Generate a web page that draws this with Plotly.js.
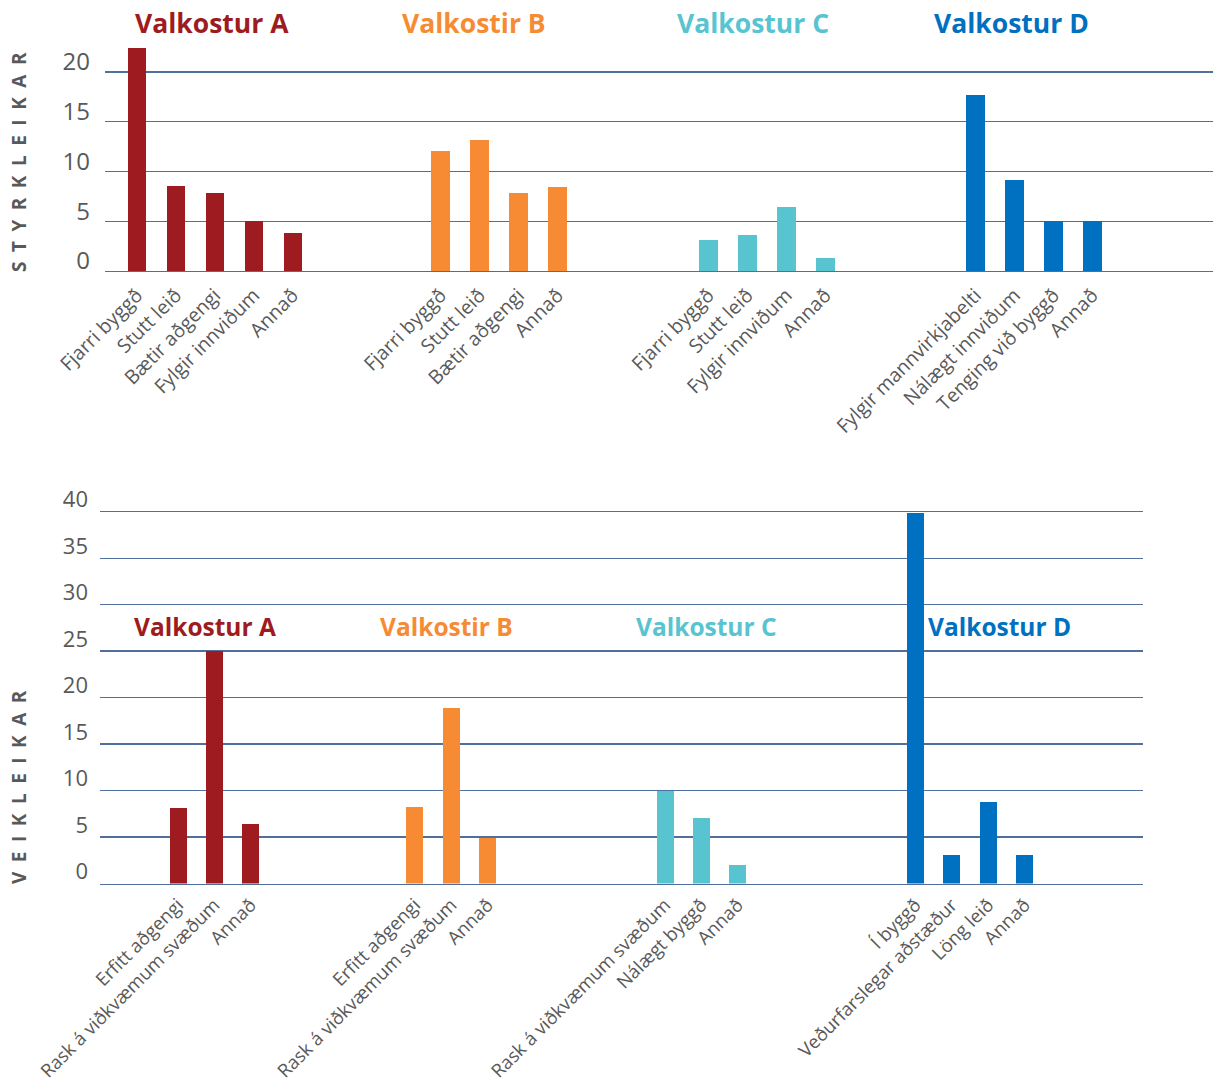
<!DOCTYPE html>
<html>
<head>
<meta charset="utf-8">
<script src="https://cdn.plot.ly/plotly-3.0.1.min.js"></script>
<style>html,body{margin:0;padding:0;background:#fff;}#chart{width:1213px;height:1092px;}</style>
</head>
<body>
<div id="chart"></div>
<script>
// ---------- DATA ----------
const groupTitles = ["Valkostur A", "Valkostir B", "Valkostur C", "Valkostur D"];
const groupColors = ["#9E1B20", "#F68B33", "#57C4CF", "#0070C0"];

// Styrkleikar (top)
const topA_labels = ["Fjarri byggð", "Stutt leið", "Bætir aðgengi", "Fylgir innviðum", "Annað"];
const topA_values = [22.4, 8.5, 7.8, 5.0, 3.8];
const topB_labels = ["Fjarri byggð", "Stutt leið", "Bætir aðgengi", "Annað"];
const topB_values = [12.1, 13.2, 7.8, 8.4];
const topC_labels = ["Fjarri byggð", "Stutt leið", "Fylgir innviðum", "Annað"];
const topC_values = [3.1, 3.6, 6.4, 1.3];
const topD_labels = ["Fylgir mannvirkjabelti", "Nálægt innviðum", "Tenging við byggð", "Annað"];
const topD_values = [17.7, 9.1, 5.0, 5.0];

// Veikleikar (bottom)
const botA_labels = ["Erfitt aðgengi", "Rask á viðkvæmum svæðum", "Annað"];
const botA_values = [8.1, 25.0, 6.4];
const botB_labels = ["Erfitt aðgengi", "Rask á viðkvæmum svæðum", "Annað"];
const botB_values = [8.2, 18.9, 4.9];
const botC_labels = ["Rask á viðkvæmum svæðum", "Nálægt byggð", "Annað"];
const botC_values = [9.9, 7.0, 2.0];
const botD_labels = ["Í byggð", "Veðurfarslegar aðstæður", "Löng leið", "Annað"];
const botD_values = [39.9, 3.1, 8.75, 3.1];

const topTickVals = [0, 5, 10, 15, 20];
const botTickVals = [0, 5, 10, 15, 20, 25, 30, 35, 40];

// ---------- LAYOUT HELPERS ----------
const W = 1213, H = 1092;
const FONT = "Open Sans, Noto Sans, sans-serif";
const GRAY = "#595959";
const GRID = "#50709C";

const topGroups = [[topA_labels, topA_values], [topB_labels, topB_values], [topC_labels, topC_values], [topD_labels, topD_values]];
const botGroups = [[botA_labels, botA_values], [botB_labels, botB_values], [botC_labels, botC_values], [botD_labels, botD_values]];
const topStarts = [0, 7.79, 14.66, 21.51];
const botStarts = [0, 6.51, 13.38, 20.26];

const traces = [];
function addGroups(groups, starts, xa, ya, width) {
  const tv = [], tt = [];
  groups.forEach((g, gi) => {
    const xs = g[0].map((_, i) => starts[gi] + i);
    xs.forEach((x, i) => { tv.push(x); tt.push(g[0][i]); });
    traces.push({
      type: "bar", x: xs, y: g[1], xaxis: xa, yaxis: ya, width: width,
      marker: { color: groupColors[gi] }, hoverinfo: "skip", showlegend: false
    });
  });
  return { tv, tt };
}
const topTicks = addGroups(topGroups, topStarts, "x", "y", 0.47);
const botTicks = addGroups(botGroups, botStarts, "x2", "y2", 0.467);

const px = v => v / W;
const py = v => (H - v) / H;

const axisX = (dom, rng, ticks, fs, stand) => ({
  domain: dom, range: rng, tickvals: ticks.tv, ticktext: ticks.tt, tickangle: -45,
  tickfont: { family: FONT, size: fs, color: GRAY }, showgrid: false, zeroline: false,
  showline: true, linecolor: GRID, linewidth: 1.3, ticks: "", fixedrange: true, ticklabelstandoff: stand
});
const axisY = (dom, rng, vals, fs, shift, stand, anchor) => ({
  domain: dom, range: rng, tickvals: vals, showgrid: true, gridcolor: GRID, gridwidth: 1.3,
  zeroline: false, showline: false, ticks: "", anchor: anchor,
  tickfont: { family: FONT, size: fs, color: GRAY }, ticklabelshift: shift, ticklabelstandoff: stand
});

const annotations = [];
const topTitleX = [1.93, 8.65, 15.8, 22.42];
const botTitleX = [0.74, 7.38, 14.52, 22.58];
groupTitles.forEach((t, i) => {
  annotations.push({ text: "<b>" + t + "</b>", xref: "x", yref: "paper", x: topTitleX[i], y: py(23),
    showarrow: false, xanchor: "center", yanchor: "middle", font: { family: FONT, size: 26.5, color: groupColors[i] } });
  annotations.push({ text: "<b>" + t + "</b>", xref: "x2", yref: "y2", x: botTitleX[i], y: 27.6,
    showarrow: false, xanchor: "center", yanchor: "middle", font: { family: FONT, size: 24.5, color: groupColors[i] } });
});
const spaced = s => s.split("").join("\u2002");
annotations.push({ text: "<b>" + spaced("STYRKLEIKAR") + "</b>", xref: "paper", yref: "paper", x: px(19), y: py(162),
  textangle: -90, showarrow: false, xanchor: "center", yanchor: "middle", font: { family: FONT, size: 19, color: GRAY } });
annotations.push({ text: "<b>" + spaced("VEIKLEIKAR") + "</b>", xref: "paper", yref: "paper", x: px(19), y: py(787),
  textangle: -90, showarrow: false, xanchor: "center", yanchor: "middle", font: { family: FONT, size: 19, color: GRAY } });

const layout = {
  width: W, height: H, margin: { l: 0, r: 0, t: 0, b: 0 },
  paper_bgcolor: "#fff", plot_bgcolor: "#fff", showlegend: false, bargap: 0,
  xaxis: axisX([px(105), 1], [-0.815, 27.6], topTicks, 19.5, 4),
  yaxis: axisY([py(271), py(40)], [0, 23.22], topTickVals, 24, -10, 14, "x"),
  xaxis2: Object.assign(axisX([px(100), px(1143)], [-2.143, 26.51], botTicks, 18.5, 2), { anchor: "y2" }),
  yaxis2: axisY([py(883.5), py(505)], [0, 40.72], botTickVals, 22, -12, 11, "x2"),
  annotations: annotations
};

Plotly.newPlot("chart", traces, layout, { displayModeBar: false, staticPlot: true });
</script>
</body>
</html>
